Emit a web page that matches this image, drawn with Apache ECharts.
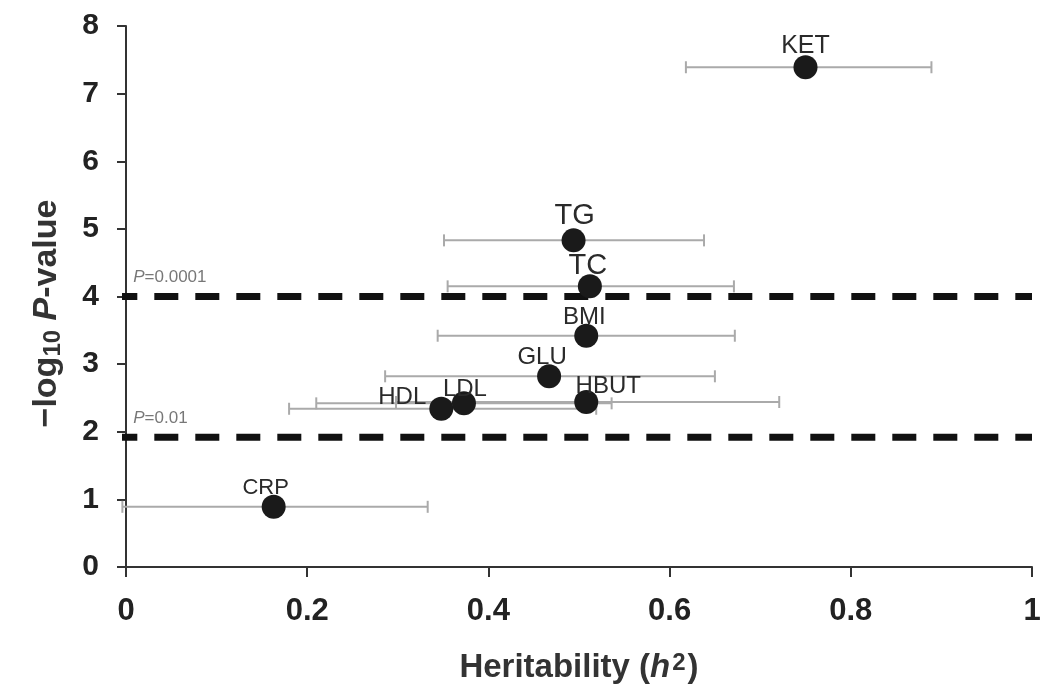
<!DOCTYPE html>
<html>
<head>
<meta charset="utf-8">
<script src="https://cdn.jsdelivr.net/npm/echarts@6/dist/echarts.min.js"></script>
<style>
html,body{margin:0;padding:0;background:#fff;}
#chart{width:1047px;height:690px;}
</style>
</head>
<body>
<div id="chart"></div>
<script>
// ---- data ----
const traits       = ['KET', 'TG', 'TC', 'BMI', 'GLU', 'HDL', 'LDL', 'HBUT', 'CRP'];
const heritability = [0.750, 0.494, 0.512, 0.508, 0.467, 0.348, 0.373, 0.508, 0.163];
const negLogP      = [7.39, 4.83, 4.15, 3.42, 2.82, 2.34, 2.42, 2.44, 0.89];
const ciLower      = [0.618, 0.351, 0.355, 0.344, 0.286, 0.180, 0.210, 0.298, -0.004];
const ciUpper      = [0.889, 0.638, 0.671, 0.672, 0.650, 0.519, 0.536, 0.721, 0.333];
const thresholdP     = ['0.0001', '0.01'];
const thresholdLevel = [4, 1.92];
const xTicks = [0, 0.2, 0.4, 0.6, 0.8, 1];
const yTicks = [0, 1, 2, 3, 4, 5, 6, 7, 8];

// ---- label style offsets (px) ----
const labelStyle = {
  KET:  {dx: 0,   dy: -21, fs: 25},
  TG:   {dx: 1,   dy: -24, fs: 29},
  TC:   {dx: -2,  dy: -20, fs: 29},
  BMI:  {dx: -2,  dy: -18, fs: 24},
  GLU:  {dx: -7,  dy: -19, fs: 24},
  HDL:  {dx: -39, dy: -11, fs: 24},
  LDL:  {dx: 1,   dy: -14, fs: 24},
  HBUT: {dx: 22,  dy: -16, fs: 24},
  CRP:  {dx: -8,  dy: -19, fs: 22}
};

const FONT = "'Liberation Sans', Arial, Helvetica, sans-serif";

const errData = traits.map((t, i) => [heritability[i], negLogP[i], ciLower[i], ciUpper[i]]);
const pointData = traits.map((t, i) => {
  const s = labelStyle[t];
  return {
    name: t,
    value: [heritability[i], negLogP[i]],
    label: {offset: [s.dx, s.dy], fontSize: s.fs}
  };
});

const lineSeries = thresholdLevel.map(lv => ({
  type: 'line',
  data: [[-0.014, lv], [1, lv]],
  symbol: 'none',
  clip: false,
  silent: true,
  z: 3,
  lineStyle: {color: '#111', width: 7, type: [24, 17]}
}));

const chart = echarts.init(document.getElementById('chart'), null, {renderer: 'canvas'});
chart.setOption({
  animation: false,
  backgroundColor: '#fff',
  grid: {left: 126, right: 15, top: 26, bottom: 123, containLabel: false},
  xAxis: {
    type: 'value', min: 0, max: 1, interval: 0.2,
    axisLine: {show: true, onZero: false, lineStyle: {color: '#333', width: 2}},
    axisTick: {show: true, length: 10, lineStyle: {color: '#333', width: 2}},
    splitLine: {show: false},
    axisLabel: {
      margin: 29, fontSize: 31, fontWeight: 'bold', fontFamily: FONT, color: '#222',
      formatter: v => String(xTicks.find(t => Math.abs(t - v) < 1e-9) ?? v)
    },
    name: '{b|Heritability (}{i|h}{sup|2}{b|)}',
    nameLocation: 'middle', nameGap: 84,
    nameTextStyle: {
      rich: {
        b: {fontSize: 33, fontWeight: 'bold', fontFamily: FONT, color: '#333'},
        i: {fontSize: 33, fontWeight: 'bold', fontStyle: 'italic', fontFamily: FONT, color: '#333'},
        sup: {fontSize: 24, fontWeight: 'bold', fontFamily: FONT, color: '#333', verticalAlign: 'top', padding: [0, 2, 10, 2]}
      }
    }
  },
  yAxis: {
    type: 'value', min: 0, max: 8, interval: 1,
    axisLine: {show: true, onZero: false, lineStyle: {color: '#333', width: 2}},
    axisTick: {show: true, length: 9, lineStyle: {color: '#333', width: 2}},
    splitLine: {show: false},
    axisLabel: {
      margin: 27, fontSize: 30, fontWeight: 'bold', fontFamily: FONT, color: '#222',
      formatter: v => String(yTicks.find(t => Math.abs(t - v) < 1e-9) ?? v)
    },
    name: '{b|\u2212log}{sub|10}{b| }{i|P}{e|-value}',
    nameLocation: 'middle', nameGap: 61, nameRotate: 90,
    nameTextStyle: {
      rich: {
        b: {fontSize: 34, fontWeight: 'bold', fontFamily: FONT, color: '#333'},
        i: {fontSize: 34, fontWeight: 'bold', fontStyle: 'italic', fontFamily: FONT, color: '#333'},
        e: {fontSize: 34, fontWeight: 'bold', fontFamily: FONT, color: '#333', padding: [0, 34, 0, 0]},
        sub: {fontSize: 24, fontWeight: 'bold', fontFamily: FONT, color: '#333', verticalAlign: 'bottom', padding: [12, 0, 0, 0]}
      }
    }
  },
  series: [
    ...lineSeries,
    {
      type: 'scatter',
      data: thresholdP.map((p, i) => ({value: [0.008, thresholdLevel[i] + 0.28], name: p})),
      symbolSize: 0,
      silent: true,
      z: 4,
      label: {
        show: true, position: 'right', distance: 0,
        formatter: p => '{i|P}{t|=' + p.name + '}',
        rich: {
          i: {fontStyle: 'italic', fontSize: 17, color: '#555', fontFamily: FONT},
          t: {fontSize: 17, color: '#555', fontFamily: FONT}
        }
      }
    },
    {
      type: 'custom',
      data: errData,
      clip: false,
      silent: true,
      z: 2,
      renderItem: (params, api) => {
        const y = api.value(1);
        const a = api.coord([api.value(2), y]);
        const b = api.coord([api.value(3), y]);
        const h = 6;
        const st = {stroke: '#aaaaaa', lineWidth: 2};
        return {
          type: 'group',
          children: [
            {type: 'line', shape: {x1: a[0], y1: a[1], x2: b[0], y2: b[1]}, style: st},
            {type: 'line', shape: {x1: a[0], y1: a[1] - h, x2: a[0], y2: a[1] + h}, style: st},
            {type: 'line', shape: {x1: b[0], y1: b[1] - h, x2: b[0], y2: b[1] + h}, style: st}
          ]
        };
      }
    },
    {
      type: 'scatter',
      data: pointData,
      symbol: 'circle',
      symbolSize: 24,
      z: 5,
      itemStyle: {color: '#1a1a1a', opacity: 1},
      label: {
        show: true, position: 'inside', formatter: p => p.name,
        color: '#2a2a2a', fontFamily: FONT
      }
    }
  ]
});
</script>
</body>
</html>
